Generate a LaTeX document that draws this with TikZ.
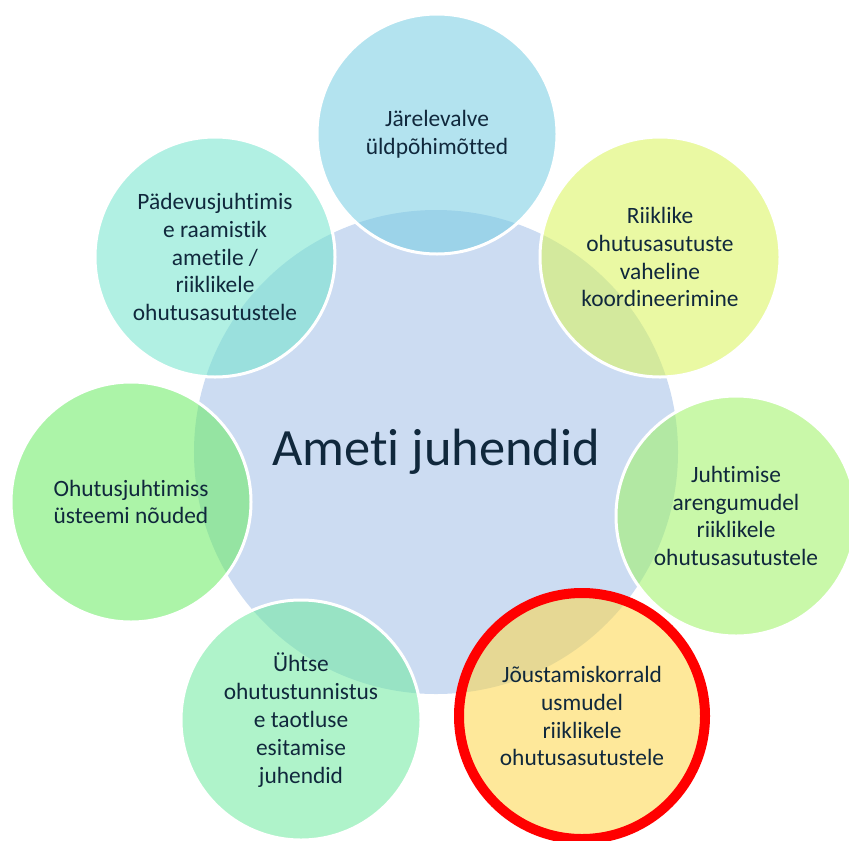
\documentclass[tikz,border=0pt]{standalone}
\usepackage{fontspec}
\setmainfont{Carlito}[RawFeature={-liga;-clig;-calt;-dlig}]
\definecolor{inkblue}{RGB}{16,40,60}
\definecolor{corefill}{RGB}{204,220,242}
\definecolor{topfill}{RGB}{117,204,226}
\definecolor{limefill}{RGB}{217,244,88}
\definecolor{greenfill}{RGB}{157,242,99}
\definecolor{goldfill}{RGB}{253,213,71}
\definecolor{mintfill}{RGB}{110,233,159}
\definecolor{leaffill}{RGB}{104,235,97}
\definecolor{aquafill}{RGB}{113,228,204}

\begin{document}
\begin{tikzpicture}[x=1bp,y=-1bp,
    topic/.style={circle,minimum size=240bp,inner sep=0pt,draw=white,line width=3bp,
      fill opacity=0.55,text opacity=1,text=inkblue,align=center,
      font=\fontsize{23.5}{28}\selectfont},
    chosen/.style={topic,draw=red,line width=10bp,minimum size=246bp}]
    \useasboundingbox (0,0) rectangle (849,841);
    \node (core) [circle,minimum size=484bp,inner sep=0pt,fill=corefill,text=inkblue,
        font=\fontsize{52.6}{60}\selectfont] at (436,452) {Ameti juhendid};
    \node (valve) [topic,fill=topfill] at (437,134) {Järelevalve\\üldpõhimõtted};
    \node (koord) [topic,fill=limefill] at (660,257) {Riiklike\\ohutusasutuste\\vaheline\\koordineerimine};
    \node (areng) [topic,fill=greenfill] at (736,516) {Juhtimise\\arengumudel\\riiklikele\\ohutusasutustele};
    \node (joust) [chosen,fill=goldfill] at (582,716) {Jõustamiskorrald\\usmudel\\riiklikele\\ohutusasutustele};
    \node (tunnis) [topic,fill=mintfill] at (301,720) {Ühtse\\ohutustunnistus\\e taotluse\\esitamise\\juhendid};
    \node (nouded) [topic,fill=leaffill] at (131,502) {Ohutusjuhtimiss\\üsteemi nõuded};
    \node (padev) [topic,fill=aquafill] at (215,257) {Pädevusjuhtimis\\e raamistik\\ametile /\\riiklikele\\ohutusasutustele};
\end{tikzpicture}
\end{document}
